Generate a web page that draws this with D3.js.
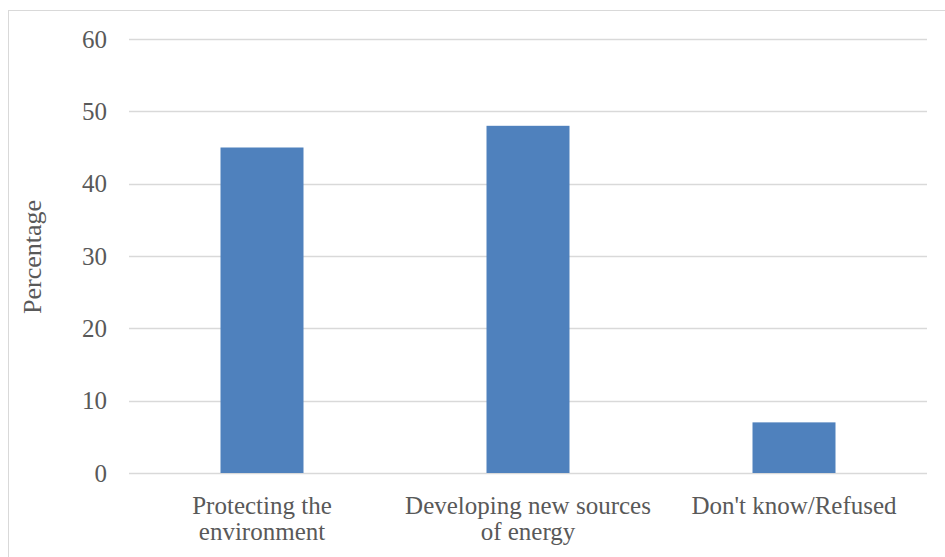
<!DOCTYPE html>
<html><head><meta charset="utf-8">
<script src="https://cdn.jsdelivr.net/npm/d3@7"></script>
<style>body{margin:0;background:#fff}svg{display:block}text{font-family:"Liberation Serif","DejaVu Serif",serif;fill:#595959}</style>
</head><body>
<script>
const categories = [["Protecting the","environment"],["Developing new sources","of energy"],["Don't know/Refused"]];
const values = [45, 48, 7];
const yTicks = [0,10,20,30,40,50,60];

const W=945,H=557;
const svg=d3.select("body").append("svg").attr("width",W).attr("height",H);
svg.append("rect").attr("x",8.5).attr("y",10.5).attr("width",W).attr("height",H).attr("fill","none").attr("stroke","#d9d9d9");
const x=d3.scaleBand().domain(d3.range(categories.length)).range([129,927]).paddingInner(0).paddingOuter(0);
const y=d3.scaleLinear().domain([0,60]).range([473,39]);
const g=svg.append("g");
g.selectAll("line.grid").data(yTicks).join("line").attr("x1",129).attr("x2",927)
 .attr("y1",d=>Math.round(y(d))+0.5).attr("y2",d=>Math.round(y(d))+0.5).attr("stroke","#d9d9d9").attr("stroke-width",1.5);
g.selectAll("text.tick").data(yTicks).join("text").attr("x",107).attr("y",d=>y(d)).attr("dy","0.35em")
 .attr("text-anchor","end").attr("font-size",25).text(d=>d);
const bw=x.bandwidth()*0.312;
g.selectAll("rect.bar").data(values).join("rect").attr("x",(d,i)=>x(i)+x.bandwidth()/2-bw/2).attr("width",bw)
 .attr("y",d=>y(d)).attr("height",d=>y(0)-y(d)).attr("fill","#4f81bd");
categories.forEach((lines,i)=>{
  const t=g.append("text").attr("text-anchor","middle").attr("font-size",25);
  lines.forEach((l,j)=>t.append("tspan").attr("x",x(i)+x.bandwidth()/2).attr("y",514+j*26).text(l));
});
svg.append("text").attr("transform","translate(41,257) rotate(-90)").attr("text-anchor","middle").attr("font-size",26).text("Percentage");
</script>
</body></html>
